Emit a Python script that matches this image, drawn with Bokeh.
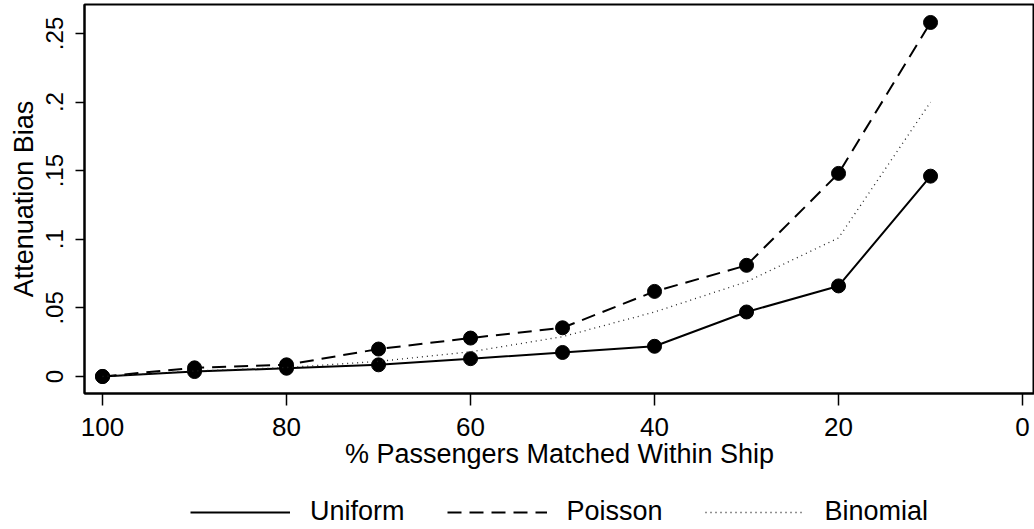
from bokeh.plotting import figure
from bokeh.layouts import column
from bokeh.models import (Range1d, FixedTicker, CustomJSTickFormatter, Legend,
                          LegendItem)
from bokeh.embed import file_html
from bokeh.resources import INLINE

# ---- data ----
pct_matched = [100, 90, 80, 70, 60, 50, 40, 30, 20, 10]
uniform = [0.0, 0.0036, 0.006, 0.0085, 0.013, 0.0175, 0.022, 0.047, 0.066, 0.146]
poisson = [0.0, 0.0063, 0.0085, 0.020, 0.028, 0.0355, 0.062, 0.081, 0.148, 0.258]
binomial = [0.0, 0.004, 0.0065, 0.011, 0.018, 0.029, 0.047, 0.069, 0.101, 0.200]
series_names = ["Uniform", "Poisson", "Binomial"]
x_ticks = [100, 80, 60, 40, 20, 0]
y_ticks = [0, 0.05, 0.10, 0.15, 0.20, 0.25]
x_title = "% Passengers Matched Within Ship"
y_title = "Attenuation Bias"

FONT = "Liberation Sans"

p = figure(width=1034, height=485, output_backend="svg", toolbar_location=None,
           x_range=Range1d(101.96, -1.30), y_range=Range1d(-0.0124, 0.2711),
           min_border_left=84, min_border_right=0, min_border_top=4,
           min_border_bottom=92)

p.background_fill_color = "white"
p.border_fill_color = "white"
p.outline_line_color = "black"
p.outline_line_width = 2
p.xgrid.visible = False
p.ygrid.visible = False

# x axis
xa = p.xaxis[0]
xa.ticker = FixedTicker(ticks=x_ticks)
xa.major_tick_out = 12
xa.major_tick_in = 0
xa.minor_tick_line_color = None
xa.axis_line_width = 2
xa.major_tick_line_width = 1.5
xa.major_label_standoff = 12
xa.major_label_text_font = FONT
xa.major_label_text_font_size = "26px"
xa.major_label_text_color = "black"
xa.axis_label = x_title
xa.axis_label_text_font = FONT
xa.axis_label_text_font_size = "27px"
xa.axis_label_text_font_style = "normal"
xa.axis_label_text_color = "black"
xa.axis_label_standoff = 0

# y axis
ya = p.yaxis[0]
ya.ticker = FixedTicker(ticks=y_ticks)
ya.formatter = CustomJSTickFormatter(code="""
    if (tick == 0) return "0";
    return tick.toFixed(2).replace(/0+$/, "").replace(/^0/, "");
""")
ya.major_label_orientation = "vertical"
ya.major_tick_out = 9
ya.major_tick_in = 0
ya.minor_tick_line_color = None
ya.axis_line_width = 2
ya.major_tick_line_width = 1.5
ya.major_label_standoff = 12
ya.major_label_text_font = FONT
ya.major_label_text_font_size = "24px"
ya.major_label_text_color = "black"
ya.axis_label = y_title
ya.axis_label_text_font = FONT
ya.axis_label_text_font_size = "27px"
ya.axis_label_text_font_style = "normal"
ya.axis_label_text_color = "black"
ya.axis_label_standoff = 5

# series
line_styles = [dict(line_color="black", line_width=2),
               dict(line_color="black", line_width=2, line_dash="14 8"),
               dict(line_color="#222222", line_width=1.3, line_dash="1 4")]

p.line(pct_matched, uniform, **line_styles[0])
p.scatter(pct_matched, uniform, size=14, color="black")
p.line(pct_matched, poisson, **line_styles[1])
p.scatter(pct_matched, poisson, size=14, color="black")
p.line(pct_matched, binomial, **line_styles[2])

# legend strip below the chart (its frame is aligned with the chart frame)
lg = figure(width=1034, height=44, output_backend="svg", toolbar_location=None,
            x_range=Range1d(0, 1), y_range=Range1d(0, 1), min_border=0)
lg.axis.visible = False
lg.xgrid.visible = False
lg.ygrid.visible = False
lg.outline_line_color = None
lg.background_fill_color = "white"
lg.border_fill_color = "white"

items = []
for name, style in zip(series_names, line_styles):
    # one point outside the visible range: only the legend sample is shown
    r = lg.line([-10], [-10], **style)
    items.append(LegendItem(label=name, renderers=[r]))

legend = Legend(items=items, orientation="horizontal", location=(106, 2),
                border_line_color=None, background_fill_alpha=0,
                label_text_font=FONT, label_text_font_size="27px",
                label_text_color="black",
                glyph_width=100, label_standoff=20, spacing=42,
                padding=0, margin=0)
lg.add_layout(legend, "center")

layout = column(p, lg, spacing=0)
open("out.html", "w").write(file_html(layout, INLINE))
